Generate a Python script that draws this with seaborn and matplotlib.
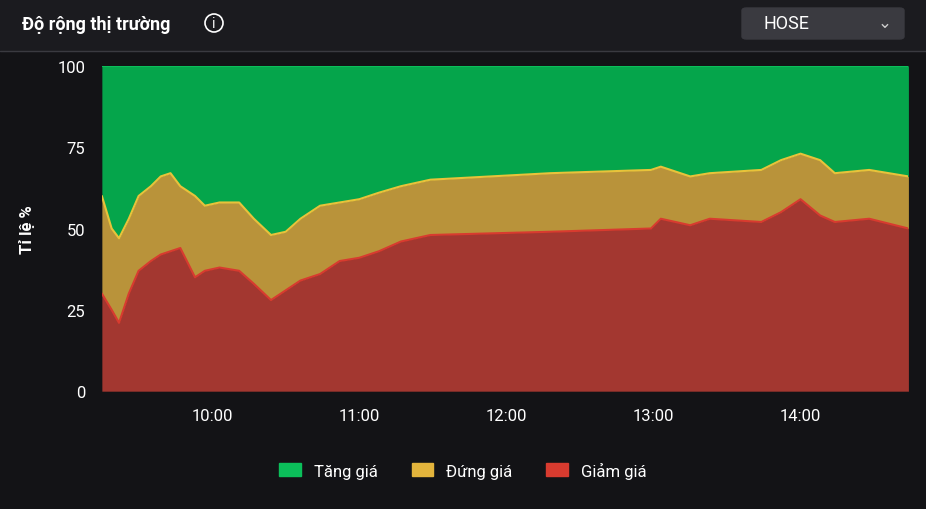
import pandas as pd
import numpy as np
import matplotlib
matplotlib.use("Agg")
import matplotlib.pyplot as plt
import matplotlib.dates as mdates
from matplotlib.patches import Patch, FancyBboxPatch, Ellipse
import seaborn as sns

# Data
times = ["09:15", "09:19", "09:22", "09:26", "09:30", "09:35", "09:39", "09:43", "09:47",
         "09:53", "09:57", "10:03", "10:11", "10:17", "10:24", "10:30", "10:36", "10:44",
         "10:52", "11:00", "11:08", "11:17", "11:29", "12:18", "12:59", "13:03", "13:15",
         "13:23", "13:44", "13:52", "14:00", "14:08", "14:14", "14:28", "14:44"]
giam = [30, 25, 21, 30, 37, 40, 42, 43, 44, 35, 37, 38, 37, 33, 28, 31, 34, 36,
        40, 41, 43, 46, 48, 49, 50, 53, 51, 53, 52, 55, 59, 54, 52, 53, 50]
top_dung = [60, 50, 47, 53, 60, 63, 66, 67, 63, 60, 57, 58, 58, 53, 48, 49, 53, 57,
            58, 59, 61, 63, 65, 67, 68, 69, 66, 67, 68, 71, 73, 71, 67, 68, 66]
ticks = ["10:00", "11:00", "12:00", "13:00", "14:00"]

df = pd.DataFrame({"t": pd.to_datetime(["2024-01-01 " + s for s in times]),
                   "giam": giam, "top": top_dung})
df["tang"] = 100

bg = "#131316"
sns.set_theme(style="dark")
plt.rcParams["font.family"] = ["Roboto", "DejaVu Sans"]

fig = plt.figure(figsize=(9.26, 5.1), dpi=100, facecolor=bg)
ax = fig.add_axes([0.110, 0.231, 0.871, 0.638])
ax.set_facecolor(bg)

ax.fill_between(df["t"], df["top"], 100, color="#05a54b", lw=0)
ax.fill_between(df["t"], df["giam"], df["top"], color="#b9933a", lw=0)
ax.fill_between(df["t"], 0, df["giam"], color="#a33730", lw=0)
sns.lineplot(data=df, x="t", y="tang", ax=ax, color="#0bbf5a", lw=1.5)
sns.lineplot(data=df, x="t", y="top", ax=ax, color="#e8c33a", lw=1.5)
sns.lineplot(data=df, x="t", y="giam", ax=ax, color="#d83b2f", lw=1.5)

ax.set_xlim(df["t"].iloc[0], df["t"].iloc[-1])
ax.set_ylim(0, 100)
ax.set_yticks([0, 25, 50, 75, 100])
ax.set_xticks(pd.to_datetime(["2024-01-01 " + s for s in ticks]))
ax.xaxis.set_major_formatter(mdates.DateFormatter("%H:%M"))
ax.tick_params(colors="white", labelsize=12, length=0, pad=12)
ax.set_xlabel("")
ax.set_ylabel("Tỉ lệ %", color="white", fontsize=12, fontweight="bold", labelpad=16)
for s in ax.spines.values():
    s.set_visible(False)

# header
fig.patches.append(plt.Rectangle((0, 1 - 52 / 510), 1, 52 / 510, transform=fig.transFigure,
                                 color="#1b1b1f", zorder=0))
fig.add_artist(plt.Line2D([0, 1], [1 - 52 / 510] * 2, color="#3a3a40", lw=1))
fig.text(0.024, 1 - 25 / 510, "Độ rộng thị trường", color="white", fontsize=13,
         fontweight="bold", va="center")
fig.patches.append(Ellipse((214 / 926, 1 - 24 / 510), 18 / 926, 18 / 510, fill=False,
                           ec="white", lw=1.2, transform=fig.transFigure))
fig.text(214 / 926, 1 - 24.5 / 510, "i", color="white", fontsize=10, va="center", ha="center")
fig.patches.append(FancyBboxPatch((742 / 926, 1 - 40 / 510), 162 / 926, 31 / 510,
                                  boxstyle="round,pad=0,rounding_size=0.005",
                                  transform=fig.transFigure, color="#3a3a40"))
fig.text(0.825, 1 - 24 / 510, "HOSE", color="white", fontsize=13, va="center")
fig.text(0.955, 1 - 24 / 510, "⌄", color="#cccccc", fontsize=12, va="center", ha="center")

handles = [Patch(color="#0bbf5a", label="Tăng giá"),
           Patch(color="#e3b43c", label="Đứng giá"),
           Patch(color="#d83b2f", label="Giảm giá")]
leg = fig.legend(handles=handles, loc="center", bbox_to_anchor=(0.5, 1 - 471 / 510), ncol=3,
                 frameon=False, fontsize=12, handlelength=1.3, handleheight=0.8,
                 columnspacing=2.0)
for t in leg.get_texts():
    t.set_color("white")

fig.savefig("out.png", dpi=100, facecolor=bg)
